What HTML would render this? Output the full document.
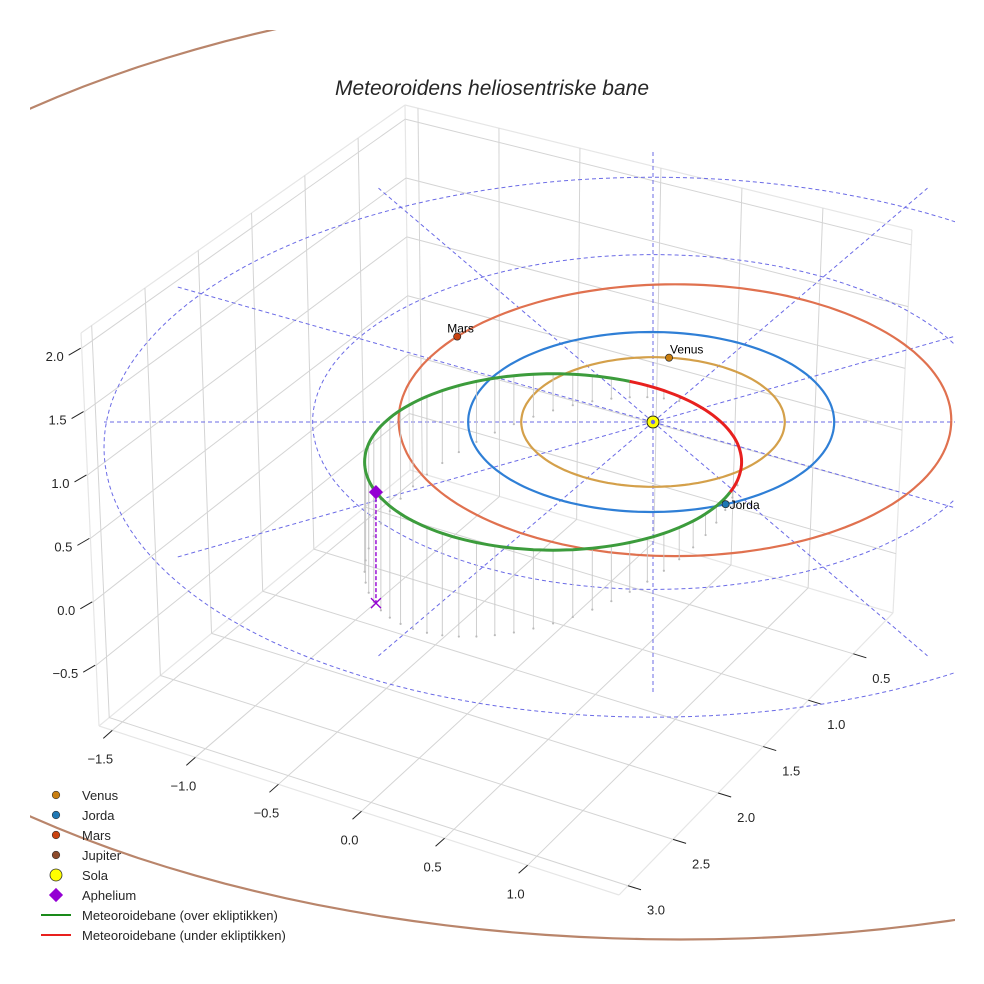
<!DOCTYPE html>
<html><head><meta charset="utf-8"><title>Meteoroidens heliosentriske bane</title>
<style>
html,body{margin:0;padding:0;background:#fff;}
svg{display:block;font-family:"Liberation Sans",sans-serif;}
</style></head>
<body>
<svg id="chart" width="984" height="984" viewBox="0 0 984 984" xmlns="http://www.w3.org/2000/svg">
<defs><clipPath id="plotclip"><rect x="30" y="30" width="925" height="925"/></clipPath></defs>
<rect width="984" height="984" fill="#fff"/>
<g id="grid"></g>
<g id="ticks"></g>
<g id="content" clip-path="url(#plotclip)"></g>
<text x="492" y="95" text-anchor="middle" font-size="21" font-style="italic" fill="#262626">Meteoroidens heliosentriske bane</text>
<g id="legend"></g>
</svg>
<script>
// ---- axis data ----
const xTicks = [-1.5, -1.0, -0.5, 0.0, 0.5, 1.0];
const xTickLabels = ["\u22121.5", "\u22121.0", "\u22120.5", "0.0", "0.5", "1.0"];
const yTicks = [0.5, 1.0, 1.5, 2.0, 2.5, 3.0];
const yTickLabels = ["0.5", "1.0", "1.5", "2.0", "2.5", "3.0"];
const zTicks = [-0.5, 0.0, 0.5, 1.0, 1.5, 2.0];
const zTickLabels = ["\u22120.5", "0.0", "0.5", "1.0", "1.5", "2.0"];
const xRange = [-1.58, 1.55];
const yRange = [0.06, 3.1];
const zRange = [-0.98, 2.12];
// ---- planet data ----
const planetNames = ["Venus", "Jorda", "Mars", "Jupiter"];
const planetRadius = [0.72, 1.0, 1.51, 5.3];
const planetCenterX = [0.0, -0.01, 0.12, 0.15];
const planetCenterY = [0.0, 0.0, -0.02, 0.45];
const planetAngle = [-83, 66, -142, null];
const planetShowMarker = [true, true, true, false];
// ---- ecliptic grid ----
const eclipticRings = [1.86, 3.0];
const eclipticRingCenterY = [0.0, 0.28];
const spokeAngles = [0, 30, 60, 90, 120, 150, 180, 210, 240, 270, 300, 330];
// ---- meteoroid orbit ----
const metCenter = [-0.546, 0.444];
const metSemiAxes = [1.03, 0.98];
const metBelowStart = -66;
const metBelowEnd = 20;
const metAphelionAngle = 160;
const metDropBase = 1.0;
const dropAngles = [];
for (let a = 0; a < 360; a += 6) dropAngles.push(a);

const colors = {Venus:"#d4a04a", Jorda:"#2f7fd6", Mars:"#e0714f", Jupiter:"#b9856b"};
const markerColors = {Venus:"#c97e10", Jorda:"#1f77b4", Mars:"#c9420f", Jupiter:"#8c4a2a"};

const NS = "http://www.w3.org/2000/svg";
function mk(tag, attrs, parent) {
  const e = document.createElementNS(NS, tag);
  for (const k in attrs) e.setAttribute(k, attrs[k]);
  parent.appendChild(e);
  return e;
}

const C = {
  BL:[99,726], BF:[619,895], BR:[893,613], BB:[410,470],
  TL:[81,333], TF:[605,505], TR:[912,230], TB:[405,105]
};
function lerp(a,b,t){return [a[0]+(b[0]-a[0])*t, a[1]+(b[1]-a[1])*t];}
function box(x,y,z){
  const u=(x-xRange[0])/(xRange[1]-xRange[0]);
  const v=(y-yRange[0])/(yRange[1]-yRange[0]);
  const w=(z-zRange[0])/(zRange[1]-zRange[0]);
  const b = lerp(lerp(C.BB,C.BR,u), lerp(C.BL,C.BF,u), v);
  const t = lerp(lerp(C.TB,C.TR,u), lerp(C.TL,C.TF,u), v);
  return lerp(b,t,w);
}
const grid = document.getElementById('grid');
const ticks = document.getElementById('ticks');
function line(p,q,attrs,parent){
  return mk('line',Object.assign({x1:p[0],y1:p[1],x2:q[0],y2:q[1]},attrs),parent);
}
const gs = {stroke:"#d4d4d4","stroke-width":1};
[[box(xRange[0],yRange[1],zRange[0]),box(xRange[0],yRange[0],zRange[0])],
 [box(xRange[0],yRange[0],zRange[0]),box(xRange[1],yRange[0],zRange[0])],
 [box(xRange[0],yRange[1],zRange[0]),box(xRange[1],yRange[1],zRange[0])],
 [box(xRange[1],yRange[0],zRange[0]),box(xRange[1],yRange[1],zRange[0])],
 [box(xRange[0],yRange[1],zRange[0]),box(xRange[0],yRange[1],zRange[1])],
 [box(xRange[0],yRange[0],zRange[0]),box(xRange[0],yRange[0],zRange[1])],
 [box(xRange[1],yRange[0],zRange[0]),box(xRange[1],yRange[0],zRange[1])],
 [box(xRange[0],yRange[1],zRange[1]),box(xRange[0],yRange[0],zRange[1])],
 [box(xRange[0],yRange[0],zRange[1]),box(xRange[1],yRange[0],zRange[1])]
].forEach(s=>{const l=line(s[0],s[1],{stroke:"#e6e6e6","stroke-width":1.2},grid);
  
  });
xTicks.forEach(x=>{
  const l1=line(box(x,yRange[1],zRange[0]),box(x,yRange[0],zRange[0]),gs,grid);
  
  
  const l2=line(box(x,yRange[0],zRange[0]),box(x,yRange[0],zRange[1]),gs,grid);
  
  
});
yTicks.forEach(y=>{
  const l1=line(box(xRange[0],y,zRange[0]),box(xRange[1],y,zRange[0]),gs,grid);
  
  
  const l2=line(box(xRange[0],y,zRange[0]),box(xRange[0],y,zRange[1]),gs,grid);
  
  
});
zTicks.forEach(z=>{
  const l1=line(box(xRange[0],yRange[1],z),box(xRange[0],yRange[0],z),gs,grid);
  
  
  const l2=line(box(xRange[0],yRange[0],z),box(xRange[1],yRange[0],z),gs,grid);
  
  
});
const ts = {stroke:"#222","stroke-width":1};
xTicks.forEach((x,i)=>{
  const p=box(x,yRange[1],zRange[0]);
  const t=line(p,[p[0]-9,p[1]+8],ts,ticks);
  
  
  const tx=mk('text',{x:p[0]-12,y:p[1]+33,"text-anchor":"middle","font-size":13,fill:"#262626"},ticks);
  tx.textContent=xTickLabels[i];
  
  
});
yTicks.forEach((y,i)=>{
  const p=box(xRange[1],y,zRange[0]);
  const t=line(p,[p[0]+13,p[1]+4],ts,ticks);
  
  
  const tx=mk('text',{x:p[0]+28,y:p[1]+29,"text-anchor":"middle","font-size":13,fill:"#262626"},ticks);
  tx.textContent=yTickLabels[i];
  
  
});
zTicks.forEach((z,i)=>{
  const p=box(xRange[0],yRange[1],z);
  const t=line([p[0]-1,p[1]],[p[0]-13,p[1]+7],ts,ticks);
  
  
  const tx=mk('text',{x:p[0]-18,y:p[1]+13,"text-anchor":"end","font-size":13,fill:"#262626"},ticks);
  tx.textContent=zTickLabels[i];
  
  
});

const SUN = [653, 422];
const SX = 183, SY = 90, SZ = 122;
function ecl(X,Y,Z){ return [SUN[0]+SX*X, SUN[1]+SY*Y-SZ*(Z||0)]; }
const content = document.getElementById('content');
function ptsPath(pts){return pts.map((p,i)=>(i?'L':'M')+p[0].toFixed(1)+' '+p[1].toFixed(1)).join(' ');}
function ringPts(cx,cy,rx,ry,a0,a1){
  const pts=[];
  for(let a=a0;a<=a1+0.001;a+=2){const r=a*Math.PI/180;pts.push(ecl(cx+rx*Math.cos(r),cy+ry*Math.sin(r)));}
  return pts;
}
eclipticRings.forEach((r,i)=>{
  const p=mk('path',{d:ptsPath(ringPts(0,eclipticRingCenterY[i],r,r,0,360)),fill:"none",stroke:"#6b6be6","stroke-width":1,"stroke-dasharray":"4,3"},content);
  
  
});
spokeAngles.forEach(a=>{
  const r=a*Math.PI/180, R=eclipticRings[eclipticRings.length-1];
  const l=line(ecl(0,0),ecl(R*Math.cos(r),R*Math.sin(r)),{stroke:"#6b6be6","stroke-width":1,"stroke-dasharray":"4,3"},content);
  
  
});
planetNames.forEach((n,i)=>{
  const p=mk('path',{d:ptsPath(ringPts(planetCenterX[i],planetCenterY[i],planetRadius[i],planetRadius[i],0,360)),fill:"none",stroke:colors[n],"stroke-width":2.2},content);
  
  
});
function metPt(a){const r=a*Math.PI/180;return [metCenter[0]+metSemiAxes[0]*Math.cos(r), metCenter[1]+metSemiAxes[1]*Math.sin(r)];}
dropAngles.forEach(a=>{
  const q=metPt(a); const top=ecl(q[0],q[1]);
  const r=a*Math.PI/180;
  const h=metDropBase*(0.45-0.45*Math.cos(r)+0.15*Math.sin(r));
  if(h<0.02) return;
  const bot=[top[0],top[1]+SZ*h];
  const l=line(top,bot,{stroke:"#c8c8c8","stroke-width":0.9},content);
  
  
  const d=mk('circle',{cx:bot[0],cy:bot[1],r:1.1,fill:"#bbbbbb"},content);
  
  
});
function metPath(a0,a1){const pts=[];for(let a=a0;a<=a1+0.001;a+=2){const q=metPt(a);pts.push(ecl(q[0],q[1]));}return pts;}
const g=mk('path',{d:ptsPath(metPath(metBelowEnd,metBelowStart+360)),fill:"none",stroke:"#3c9c3c","stroke-width":3},content);


const rd=mk('path',{d:ptsPath(metPath(metBelowStart,metBelowEnd)),fill:"none",stroke:"#e8201e","stroke-width":3},content);


const ap=metPt(metAphelionAngle); const apS=ecl(ap[0],ap[1]);
const apBot=[apS[0],apS[1]+SZ*0.91];
const al=line(apS,apBot,{stroke:"#9400d3","stroke-width":1.4,"stroke-dasharray":"4,2"},content);


const ax=mk('path',{d:`M${apBot[0]-5} ${apBot[1]-5}L${apBot[0]+5} ${apBot[1]+5}M${apBot[0]-5} ${apBot[1]+5}L${apBot[0]+5} ${apBot[1]-5}`,stroke:"#9400d3","stroke-width":1.3,fill:"none"},content);


const ad=mk('rect',{x:apS[0]-5,y:apS[1]-5,width:10,height:10,fill:"#9400d3",transform:`rotate(45 ${apS[0]} ${apS[1]})`},content);


planetNames.forEach((n,i)=>{
  if(!planetShowMarker[i])return;
  const r=planetAngle[i]*Math.PI/180;
  const p=ecl(planetCenterX[i]+planetRadius[i]*Math.cos(r),planetCenterY[i]+planetRadius[i]*Math.sin(r));
  const c=mk('circle',{cx:p[0],cy:p[1],r:3.6,fill:markerColors[n],stroke:"#222","stroke-width":0.7},content);
  
  
  const t=mk('text',{x:p[0]+(n==="Jorda"?4:(n==="Mars"?-10:1)),y:p[1]+(n==="Jorda"?5:-4),"font-size":12,fill:"#000"},content);
  t.textContent=n;
  
  
});
const sc=mk('circle',{cx:SUN[0],cy:SUN[1],r:6,fill:"#ffff00",stroke:"#222","stroke-width":1},content);


const sc2=mk('circle',{cx:SUN[0],cy:SUN[1],r:2.2,fill:"#6b6be6"},content);



const legendLabels = ["Venus","Jorda","Mars","Jupiter","Sola","Aphelium","Meteoroidebane (over ekliptikken)","Meteoroidebane (under ekliptikken)"];
const legend=document.getElementById('legend');
legendLabels.forEach((lab,i)=>{
  const y=795+i*20;
  let m;
  if(i<4){m=mk('circle',{cx:56,cy:y,r:3.8,fill:markerColors[planetNames[i]],stroke:"#333","stroke-width":0.6},legend);}
  else if(i===4){m=mk('circle',{cx:56,cy:y,r:6,fill:"#ffff00",stroke:"#333","stroke-width":0.8},legend);}
  else if(i===5){m=mk('rect',{x:51,y:y-5,width:10,height:10,fill:"#9400d3",transform:`rotate(45 56 ${y})`},legend);}
  else {m=mk('line',{x1:41,y1:y,x2:71,y2:y,stroke:i===6?"#1a8a1a":"#e8201e","stroke-width":2},legend);}
  
  
  const t=mk('text',{x:82,y:y+5,"font-size":13,fill:"#262626"},legend);
  t.textContent=lab;
  
  
});
</script>
</body></html>
